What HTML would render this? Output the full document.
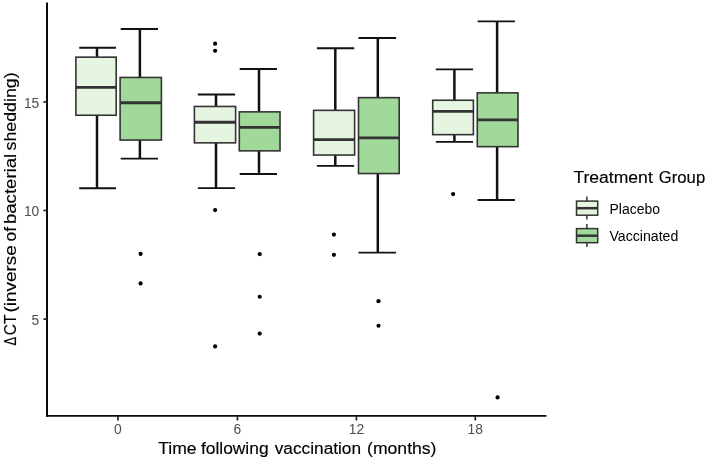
<!DOCTYPE html>
<html><head><meta charset="utf-8"><title>Boxplot</title>
<style>
html,body{margin:0;padding:0;background:#fff;}
svg{display:block;}
text{font-family:"Liberation Sans",Arial,Helvetica,sans-serif;}
.tk{font-size:13.8px;fill:#4d4d4d;}
.tt{font-size:17.25px;fill:#000;}
.lg{font-size:13.8px;fill:#000;}
</style></head><body>
<svg width="708" height="461" viewBox="0 0 708 461">
<rect width="708" height="461" fill="#ffffff"/>

<g transform="translate(0 0.35)">
<g stroke="#111" stroke-width="2.50" fill="none">
<path d="M97.0 47.4V187.9"/>
<path stroke-width="1.90" d="M79.2 47.4H116.0M79.2 187.9H116.0"/>
<path d="M139.9 28.6V158.3"/>
<path stroke-width="1.90" d="M120.7 28.6H158.0M120.7 158.3H158.0"/>
<path d="M216.0 94.2V187.8"/>
<path stroke-width="1.90" d="M197.8 94.2H235.1M197.8 187.8H235.1"/>
<path d="M259.0 68.6V173.7"/>
<path stroke-width="1.90" d="M239.7 68.6H277.0M239.7 173.7H277.0"/>
<path d="M335.3 47.9V165.5"/>
<path stroke-width="1.90" d="M316.9 47.9H354.2M316.9 165.5H354.2"/>
<path d="M377.8 37.7V252.3"/>
<path stroke-width="1.90" d="M358.5 37.7H396.1M358.5 252.3H396.1"/>
<path d="M454.4 69.0V141.5"/>
<path stroke-width="1.90" d="M435.8 69.0H473.0M435.8 141.5H473.0"/>
<path d="M497.1 21.0V199.7"/>
<path stroke-width="1.90" d="M477.6 21.0H514.9M477.6 199.7H514.9"/>
</g>
<g fill="#000">
<circle cx="140.6" cy="253.5" r="2.1"/>
<circle cx="140.6" cy="283.1" r="2.1"/>
<circle cx="215.1" cy="43.3" r="2.1"/>
<circle cx="215.1" cy="50.4" r="2.1"/>
<circle cx="215.1" cy="209.7" r="2.1"/>
<circle cx="215.1" cy="346.1" r="2.1"/>
<circle cx="259.7" cy="253.7" r="2.1"/>
<circle cx="259.7" cy="296.4" r="2.1"/>
<circle cx="259.7" cy="333.2" r="2.1"/>
<circle cx="333.9" cy="234.2" r="2.1"/>
<circle cx="333.9" cy="254.5" r="2.1"/>
<circle cx="378.5" cy="300.8" r="2.1"/>
<circle cx="378.5" cy="325.4" r="2.1"/>
<circle cx="453.1" cy="193.7" r="2.1"/>
<circle cx="497.6" cy="397.1" r="2.1"/>
</g>
<rect x="75.9" y="56.8" width="40.3" height="58.1" fill="#E5F5E0" stroke="#333" stroke-width="1.60"/>
<path d="M75.9 87.0H116.2" stroke="#333" stroke-width="2.80"/>
<rect x="120.1" y="77.1" width="41.3" height="62.6" fill="#A1D99B" stroke="#333" stroke-width="1.60"/>
<path d="M120.1 102.4H161.4" stroke="#333" stroke-width="2.80"/>
<rect x="194.4" y="106.1" width="41.2" height="36.4" fill="#E5F5E0" stroke="#333" stroke-width="1.60"/>
<path d="M194.4 121.9H235.6" stroke="#333" stroke-width="2.80"/>
<rect x="239.3" y="111.5" width="40.7" height="39.0" fill="#A1D99B" stroke="#333" stroke-width="1.60"/>
<path d="M239.3 127.0H280.0" stroke="#333" stroke-width="2.80"/>
<rect x="313.6" y="110.0" width="41.0" height="44.7" fill="#E5F5E0" stroke="#333" stroke-width="1.60"/>
<path d="M313.6 139.2H354.6" stroke="#333" stroke-width="2.80"/>
<rect x="358.5" y="97.3" width="40.7" height="75.9" fill="#A1D99B" stroke="#333" stroke-width="1.60"/>
<path d="M358.5 137.5H399.2" stroke="#333" stroke-width="2.80"/>
<rect x="432.7" y="99.9" width="40.7" height="34.4" fill="#E5F5E0" stroke="#333" stroke-width="1.60"/>
<path d="M432.7 111.1H473.4" stroke="#333" stroke-width="2.80"/>
<rect x="477.3" y="92.5" width="40.7" height="53.8" fill="#A1D99B" stroke="#333" stroke-width="1.60"/>
<path d="M477.3 119.6H518.0" stroke="#333" stroke-width="2.80"/>
</g>
<path d="M47.0 2.4V416.7" fill="none" stroke="#0a0a0a" stroke-width="2.0" stroke-linecap="butt"/>
<path d="M46.0 415.9H546.4" fill="none" stroke="#0a0a0a" stroke-width="1.7" stroke-linecap="butt"/>
<g stroke="#222" stroke-width="1.7">
<path d="M43.4 101.9H47"/>
<path d="M43.4 210.5H47"/>
<path d="M43.4 319.1H47"/>
<path d="M117.9 416V420.5"/>
<path d="M237.4 416V420.5"/>
<path d="M356.4 416V420.5"/>
<path d="M475.3 416V420.5"/>
</g>
<text class="tk" x="39.3" y="107.7" text-anchor="end">15</text>
<text class="tk" x="39.3" y="216.3" text-anchor="end">10</text>
<text class="tk" x="39.3" y="324.9" text-anchor="end">5</text>
<text class="tk" x="117.9" y="433.9" text-anchor="middle">0</text>
<text class="tk" x="237.4" y="433.9" text-anchor="middle">6</text>
<text class="tk" x="356.4" y="433.9" text-anchor="middle">12</text>
<text class="tk" x="475.3" y="433.9" text-anchor="middle">18</text>
<g class="tt" stroke="#000" stroke-width="0.15">
<text x="158.20" y="453.9" textLength="38.40" lengthAdjust="spacingAndGlyphs">Time</text>
<text x="200.90" y="453.9" textLength="67.70" lengthAdjust="spacingAndGlyphs">following</text>
<text x="274.70" y="453.9" textLength="86.39" lengthAdjust="spacingAndGlyphs">vaccination</text>
<text x="367.08" y="453.9" textLength="69.38" lengthAdjust="spacingAndGlyphs">(months)</text>
</g>
<g class="tt" transform="translate(15.6 346) rotate(-90)" stroke="#000" stroke-width="0.15">
<text x="0.40" y="0" textLength="8.59" lengthAdjust="spacingAndGlyphs">Δ</text>
<text x="10.80" y="0" textLength="20.68" lengthAdjust="spacingAndGlyphs">CT</text>
<text x="33.50" y="0" textLength="67.35" lengthAdjust="spacingAndGlyphs">(inverse</text>
<text x="104.50" y="0" textLength="14.49" lengthAdjust="spacingAndGlyphs">of</text>
<text x="121.92" y="0" textLength="70.27" lengthAdjust="spacingAndGlyphs">bacterial</text>
<text x="195.60" y="0" textLength="77.97" lengthAdjust="spacingAndGlyphs">shedding)</text>
</g>
<g class="tt" stroke="#000" stroke-width="0.15">
<text x="573.40" y="183.4" textLength="79.39" lengthAdjust="spacingAndGlyphs">Treatment</text>
<text x="658.80" y="183.4" textLength="46.37" lengthAdjust="spacingAndGlyphs">Group</text>
</g>
<path d="M586.9 196.4V219.6" stroke="#333" stroke-width="1.5"/>
<rect x="576.5" y="201.1" width="21.2" height="14.1" fill="#E5F5E0" stroke="#333" stroke-width="1.5"/>
<path d="M576.4 208.2H597.8" stroke="#333" stroke-width="2.5"/>
<text class="lg" x="609.5" y="213.6" textLength="50.4" lengthAdjust="spacingAndGlyphs">Placebo</text>
<path d="M586.9 223.9V247.1" stroke="#333" stroke-width="1.5"/>
<rect x="576.5" y="228.6" width="21.2" height="14.1" fill="#A1D99B" stroke="#333" stroke-width="1.5"/>
<path d="M576.4 235.7H597.8" stroke="#333" stroke-width="2.5"/>
<text class="lg" x="609.5" y="240.9" textLength="68.8" lengthAdjust="spacingAndGlyphs">Vaccinated</text>
</svg></body></html>
